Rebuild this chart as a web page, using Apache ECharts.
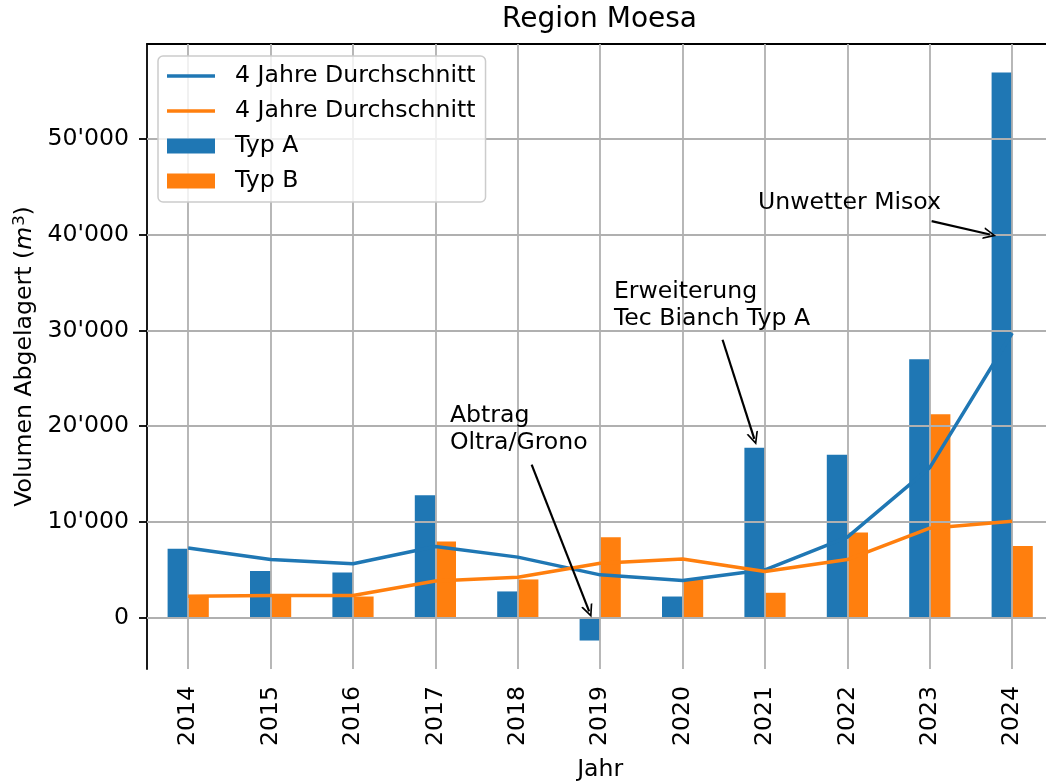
<!DOCTYPE html>
<html>
<head>
<meta charset="utf-8">
<script src="https://cdn.jsdelivr.net/npm/echarts@6/dist/echarts.min.js"></script>
<style>
  html, body { margin: 0; padding: 0; background: #fff; }
  #chart { width: 1046px; height: 782px; }
</style>
</head>
<body>
<div id="chart"></div>
<script>
// values
const years = ['2014', '2015', '2016', '2017', '2018', '2019', '2020', '2021', '2022', '2023', '2024'];
const typA = [7220, 4890, 4750, 12790, 2770, -2350, 2240, 17770, 17030, 26980, 56910];
const typB = [2350, 2400, 2240, 7990, 4020, 8430, 4020, 2630, 8920, 21240, 7500];
const avgA = [7290, 6100, 5650, 7460, 6350, 4500, 3910, 5030, 8430, 15680, 29730];
const avgB = [2280, 2350, 2350, 3850, 4260, 5700, 6150, 4850, 6100, 9370, 10100];
const yTicks = [0, 10000, 20000, 30000, 40000, 50000];

// annotations, in data space (x = category index)
const notes = [
  { text: 'Abtrag\nOltra/Grono', tx: 3.176, ty: 22450, from: [4.168, 16000], to: [4.866, 690] },
  { text: 'Erweiterung\nTec Bianch Typ A', tx: 5.166, ty: 35400, from: [6.485, 29020], to: [6.87, 18690] },
  { text: 'Unwetter Misox', tx: 6.914, ty: 44690, from: [9.022, 41400], to: [9.73, 40000] }
];

const BLUE = '#1f77b4';
const ORANGE = '#ff7f0e';
const FONT = 'DejaVu Sans';
const FS = 23.6;
const AVG_A = '4 Jahre Durchschnitt';
const AVG_B = '4 Jahre Durchschnitt '; // same label, legend needs distinct names

const fmt = v => String(v).replace(/\B(?=(\d{3})+(?!\d))/g, "'");
const chevron = 'path://M0,10 L5,0 L10,10 L8.5,10 L5,3 L1.5,10 Z';
const lineIcon = 'path://M0,0 L48,0 L48,3.5 L0,3.5 Z';

const chart = echarts.init(document.getElementById('chart'));

chart.setOption({
  animation: false,
  textStyle: { fontFamily: FONT },
  title: {
    text: 'Region Moesa',
    left: 502,
    top: 5,
    padding: 0,
    textStyle: { fontFamily: FONT, fontSize: 28, fontWeight: 'normal', color: '#000', lineHeight: 30 }
  },
  legend: {
    orient: 'vertical',
    left: 158,
    top: 56,
    padding: [7, 10, 8, 9],
    itemGap: 9,
    itemWidth: 48,
    itemHeight: 15,
    symbolKeepAspect: true,
    backgroundColor: 'rgba(255,255,255,0.8)',
    borderColor: '#cccccc',
    borderWidth: 1.5,
    borderRadius: 5,
    selectedMode: false,
    data: [
      { name: AVG_A, icon: lineIcon },
      { name: AVG_B, icon: lineIcon },
      { name: 'Typ A', icon: 'rect' },
      { name: 'Typ B', icon: 'rect' }
    ],
    formatter: n => n.trim(),
    textStyle: { fontFamily: FONT, fontSize: FS, color: '#000', lineHeight: 26, padding: [0, 0, 0, 15] }
  },
  grid: { left: 147, right: -7.4, top: 44, bottom: 113, containLabel: false, outerBoundsMode: 'none' },
  xAxis: [
    {
      type: 'category',
      data: years,
      name: 'Jahr',
      nameLocation: 'middle',
      nameGap: 89,
      nameTextStyle: { fontFamily: FONT, fontSize: FS, color: '#000' },
      axisLine: { lineStyle: { color: '#000', width: 1.8 } },
      axisTick: { alignWithLabel: true, length: 8, lineStyle: { color: '#000', width: 1.8 } },
      axisLabel: { rotate: 90, margin: 17, fontFamily: FONT, fontSize: FS, color: '#000' },
      splitLine: { show: false }
    },
    {
      type: 'value',
      min: -0.5,
      max: 10.5,
      position: 'top',
      axisLine: { show: true, onZero: false, lineStyle: { color: '#000', width: 1.8 } },
      axisTick: { show: false },
      axisLabel: { show: false },
      splitLine: { show: false }
    }
  ],
  yAxis: {
    type: 'value',
    min: -5320,
    max: 59870,
    name: '{t|Volumen Abgelagert (}{i|m}{s|3}{t|)}',
    nameLocation: 'middle',
    nameRotate: 90,
    nameGap: 108,
    nameTextStyle: {
      rich: {
        t: { fontFamily: FONT, fontSize: FS, color: '#000' },
        i: { fontFamily: FONT, fontSize: FS, color: '#000', fontStyle: 'italic' },
        s: { fontFamily: FONT, fontSize: 16.5, color: '#000', padding: [0, 0, 10, 1] }
      }
    },
    axisLine: { show: true, onZero: false, lineStyle: { color: '#000', width: 1.8 } },
    axisTick: { show: true, length: 8, customValues: yTicks, lineStyle: { color: '#000', width: 1.8 } },
    axisLabel: { customValues: yTicks, margin: 18, fontFamily: FONT, fontSize: FS, color: '#000', formatter: fmt },
    splitLine: { show: false }
  },
  series: [
    {
      name: AVG_A, type: 'line', data: avgA, symbol: 'none', z: 3,
      itemStyle: { color: BLUE }, lineStyle: { color: BLUE, width: 3.5 }
    },
    {
      name: AVG_B, type: 'line', data: avgB, symbol: 'none', z: 3,
      itemStyle: { color: ORANGE }, lineStyle: { color: ORANGE, width: 3.5 }
    },
    {
      name: 'Typ A', type: 'bar', data: typA, barWidth: 20.6, barGap: '0%', z: 1,
      itemStyle: { color: BLUE }
    },
    {
      name: 'Typ B', type: 'bar', data: typB, barWidth: 20.6, barGap: '0%', z: 1,
      itemStyle: { color: ORANGE }
    },
    {
      // grid lines, drawn above the bars and below the lines
      name: 'grid', type: 'scatter', xAxisIndex: 1, data: [],
      markLine: {
        silent: true, z: 2, symbol: ['none', 'none'], label: { show: false },
        lineStyle: { color: '#b0b0b0', width: 1.8, type: 'solid' },
        emphasis: { disabled: true },
        data: years.map((y, i) => ({ xAxis: i })).concat(yTicks.map(v => ({ yAxis: v })))
      }
    },
    {
      name: 'notes', type: 'scatter', xAxisIndex: 1, data: [],
      markLine: {
        silent: true, z: 6, symbol: ['none', chevron], symbolSize: [12, 13],
        label: { show: false },
        lineStyle: { color: '#000', width: 2.2, type: 'solid' },
        emphasis: { disabled: true },
        data: notes.map(n => [{ coord: n.from }, { coord: n.to }])
      },
      markPoint: {
        silent: true, z: 6, symbol: 'circle', symbolSize: 0,
        itemStyle: { color: 'transparent' },
        label: {
          show: true, position: [0, 0], align: 'left', verticalAlign: 'top',
          fontFamily: FONT, fontSize: FS, lineHeight: 27, color: '#000',
          formatter: p => p.name
        },
        data: notes.map(n => ({ name: n.text, coord: [n.tx, n.ty] }))
      }
    }
  ]
});
</script>
</body>
</html>
